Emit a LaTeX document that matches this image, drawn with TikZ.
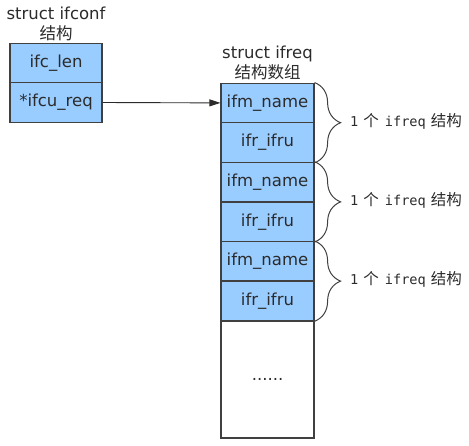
\documentclass[tikz,border=0pt]{standalone}
\usepackage{fontspec}
\setmainfont{DejaVu Sans}
\newfontfamily\cjk{Noto Sans CJK SC}
\newfontfamily\monof{DejaVu Sans Mono}
\usetikzlibrary{decorations.pathreplacing,arrows.meta}
\definecolor{cellblue}{HTML}{99CCFF}
\definecolor{edge}{HTML}{404040}
\definecolor{txt}{HTML}{2B2B2B}
\newcommand{\onereq}{\monof 1\hspace{5pt}{\cjk\fontsize{15.5}{16}\selectfont 个}\hspace{6pt}ifreq\hspace{5pt}{\cjk\fontsize{15.5}{16}\selectfont 结构}}
\tikzset{
  cell/.style={draw=edge, line width=1.2pt, fill=cellblue, minimum width=92pt, minimum height=39.5pt, inner sep=0pt, text=txt, font=\fontsize{16.5}{20}\selectfont},
  emptycell/.style={draw=edge, line width=1.2pt, fill=white, minimum width=93pt, minimum height=117pt, inner sep=0pt, text=txt, font=\fontsize{16.5}{20}\selectfont},
  title/.style={align=center, text=txt, font=\fontsize{16.5}{19.5}\selectfont, inner sep=0pt},
  bracelbl/.style={text=txt, font=\fontsize{13.6}{16}\selectfont, inner sep=0pt},
  bracestyle/.style={draw=edge, line width=1pt, decorate, decoration={brace, amplitude=26pt}},
  conn/.style={draw=txt, line width=0.9pt, -{Triangle[length=11pt,width=7pt]}}
}
\begin{document}
\begin{tikzpicture}[x=1pt,y=-1pt]
\useasboundingbox (0,0) rectangle (469,445);
% left struct
\node[title] (t1) at (56,24) {struct ifconf\\{\cjk 结构}};
\node[cell] (len) at (56,63.5) {ifc\_len};
\node[cell] (req) at (56,102.5) {*ifcu\_req};
% right array
\node[title] (t2) at (267.5,63) {struct ifreq\\{\cjk 结构数组}};
\node[cell, minimum width=93pt] (n1) at (267.5,102.9) {ifm\_name};
\node[cell, minimum width=93pt] (u1) at (267.5,142.5) {ifr\_ifru};
\node[cell, minimum width=93pt] (n2) at (267.5,182.1) {ifm\_name};
\node[cell, minimum width=93pt] (u2) at (267.5,221.7) {ifr\_ifru};
\node[cell, minimum width=93pt] (n3) at (267.5,261.3) {ifm\_name};
\node[cell, minimum width=93pt] (u3) at (267.5,300.9) {ifr\_ifru};
\node[emptycell] (rest) at (267.5,379.5) {......};
% arrow
\draw[conn] (req.east) -- (n1.west);
% braces
\draw[bracestyle] (n1.north east) -- (u1.south east);
\draw[bracestyle] (n2.north east) -- (u2.south east);
\draw[bracestyle] (n3.north east) -- (u3.south east);
\node[bracelbl, anchor=west] (l1) at (350,121) {\onereq};
\node[bracelbl, anchor=west] (l2) at (350,200) {\onereq};
\node[bracelbl, anchor=west] (l3) at (350,279) {\onereq};
\end{tikzpicture}
\end{document}
